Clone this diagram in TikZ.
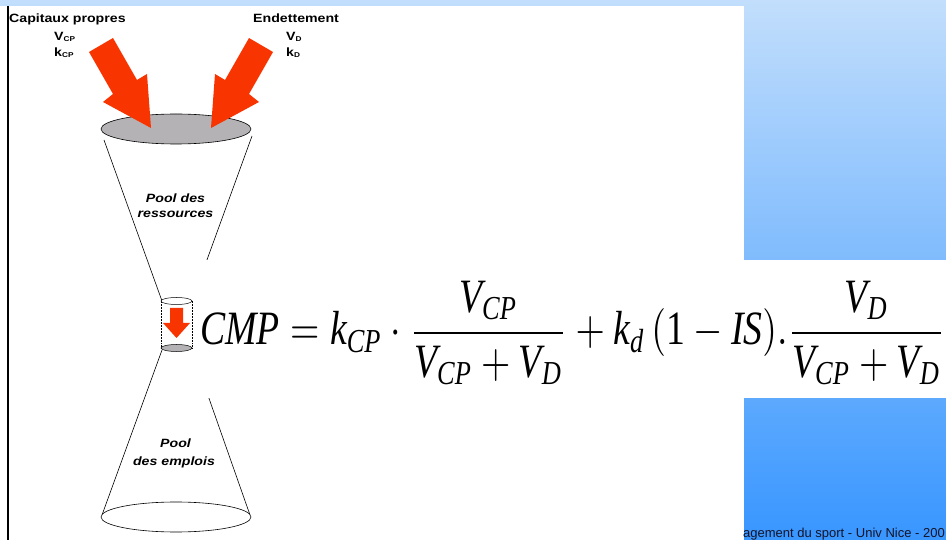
\documentclass[tikz,border=0pt]{standalone}
\usepackage{amsmath}
\usepackage{graphicx}
\usepackage{fontspec}
\setmainfont{Liberation Serif}
\newfontfamily\arialf{Liberation Sans}
\definecolor{arrred}{RGB}{248,52,0}
\definecolor{ellgray}{RGB}{180,178,180}
\definecolor{bgtop}{RGB}{194,222,252}
\definecolor{bgbot}{RGB}{56,150,255}
\definecolor{footc}{RGB}{20,20,40}
\tikzset{
 lbl/.style={font=\arialf\bfseries\fontsize{12}{12}\selectfont, inner sep=0pt, anchor=base west},
 pool/.style={font=\arialf\bfseries\itshape\fontsize{12}{12}\selectfont, inner sep=0pt, anchor=base},
 redarrow/.style={fill=arrred, draw=none},
 cone/.style={draw=black, line width=0.6pt},
}
\newcommand{\hs}[1]{\scalebox{1.18}[1]{#1}}
\newcommand{\ti}[1]{\textit{#1}}
\newcommand{\subtiny}[1]{\raisebox{-1pt}{\fontsize{7}{7}\selectfont #1}}
\begin{document}
\begin{tikzpicture}[x=1pt,y=-1pt]
\useasboundingbox (0,0) rectangle (946,540);
\shade[top color=bgtop,bottom color=bgbot] (0,0) rectangle (946,540);
\fill[white] (0,6) rectangle (744,540);
\fill[black] (7,6) rectangle (9,540);
% cones
\draw[cone] (104,140) -- (162,301);
\draw[cone] (252,136) -- (192,301);
\draw[cone] (162,350) -- (102,515);
\draw[cone] (192,350) -- (250,515);
% formula box
\fill[white] (190,260) rectangle (946,398);
% top and bottom ellipses
\draw[fill=ellgray, line width=0.6pt] (176,129) ellipse [x radius=75, y radius=15];
\draw[fill=white, line width=0.6pt] (176,517) ellipse [x radius=75, y radius=15];
% small cylinder
\draw[densely dotted, line width=0.5pt] (161,301) -- (161,348) (192,301) -- (192,348);
\draw[fill=white, line width=0.5pt] (176.5,301) ellipse [x radius=15.5, y radius=3.5];
\draw[fill=ellgray, line width=0.5pt] (176.5,348) ellipse [x radius=15.5, y radius=3.5];
\fill[redarrow] (170,308) -- (183,308) -- (183,323) -- (190,323) -- (176.5,338) -- (163,323) -- (170,323) -- cycle;
% big red arrows
\fill[redarrow] (89,52) -- (113,38) -- (137,80) -- (147,74) -- (151,128) -- (103,102) -- (113,94) -- cycle;
\fill[redarrow] (273,52) -- (249,38) -- (225,80) -- (215,74) -- (211,128) -- (259,102) -- (249,94) -- cycle;
% labels
\node[lbl] (cap) at (9,23) {\hs{Capitaux propres}};
\node[lbl] (vcp) at (54,41) {\hs{V\subtiny{CP}}};
\node[lbl] (kcp) at (54,57) {\hs{k\subtiny{CP}}};
\node[lbl] (end) at (253,23) {\hs{Endettement}};
\node[lbl] (vd) at (286,41) {\hs{V\subtiny{D}}};
\node[lbl] (kd) at (286,57) {\hs{k\subtiny{D}}};
\node[pool] (pr1) at (175.5,203) {\hs{Pool des}};
\node[pool] (pr2) at (175.5,218) {\hs{ressources}};
\node[pool] (pe1) at (175.5,447) {\hs{Pool}};
\node[pool] (pe2) at (174,465) {\hs{des emplois}};
% formula
\node[anchor=north west, inner sep=0pt] (cmp) at (200,281) {\resizebox*{745pt}{104pt}{$\displaystyle \ti{CMP}=\ti{k}_{\ti{CP}}\cdot\frac{\ti{V}_{\ti{CP}}}{\ti{V}_{\ti{CP}}+\ti{V}_{\ti{D}}}+\ti{k}_{\ti{d}}\left(\textup{1}-\ti{IS}\right)\!.\frac{\ti{V}_{\ti{D}}}{\ti{V}_{\ti{CP}}+\ti{V}_{\ti{D}}}$}};
% footer
\node[anchor=base east, inner sep=0pt, font=\arialf\fontsize{13}{13}\selectfont, text=footc] (foot) at (945,537) {agement du sport - Univ Nice - 200};
\end{tikzpicture}
\end{document}
